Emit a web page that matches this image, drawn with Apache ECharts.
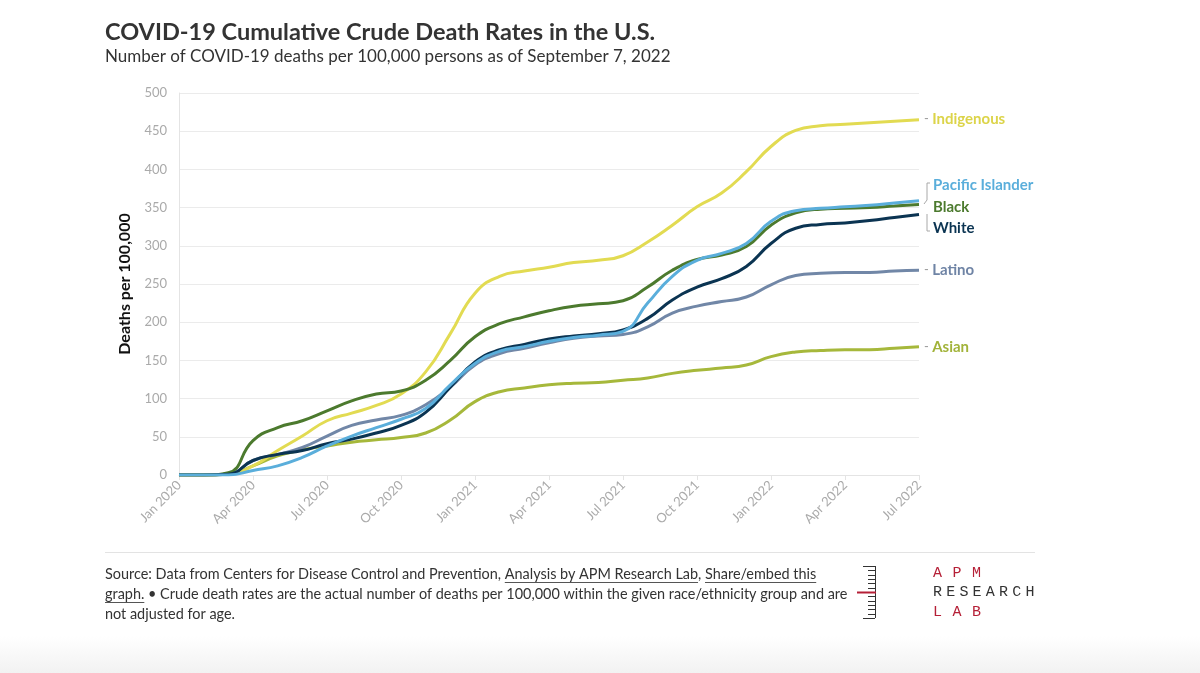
<!DOCTYPE html>
<html>
<head>
<meta charset="utf-8">
<script src="https://cdn.jsdelivr.net/npm/echarts/dist/echarts.min.js"></script>
<style>
html,body{margin:0;padding:0;background:#fff;}
#c{width:1200px;height:673px;}
</style>
</head>
<body>
<div id="c"></div>
<script>
// ---------- data ----------
const tickLabels = ['Jan 2020','Apr 2020','Jul 2020','Oct 2020','Jan 2021','Apr 2021','Jul 2021','Oct 2021','Jan 2022','Apr 2022','Jul 2022'];
// months since Jan 2020
const months = [0,1,2,3,4,5,6,7,8,9,10,11,12,13,14,15,16,17,18,19,20,21,22,23,24,25,26,27,28,29,30];
const indigenous = [0,0,1,12,32,51,71,81,91,106,135,185,238,260,267,272,278,281,287,305,327,351,369,397,430,451,457,459,461,463,465];
const pacificIslander = [0,0,0,6,12,23,38,51,62,73,87,118,146,162,168,175,180,183,188,225,260,281,290,303,332,346,349,351,353,356,359];
const black = [0,0,3,45,62,71,84,97,106,110,124,150,181,198,207,215,221,224,228,246,268,282,288,299,327,343,348,349,350,352,354];
const white = [0,0,1,19,27,32,41,47,55,65,82,115,148,164,171,178,182,185,190,205,229,246,257,273,303,323,328,330,333,337,341];
const latino = [0,0,1,19,27,36,51,65,72,78,92,115,144,159,166,173,179,182,184,194,212,221,227,233,249,261,264,265,265,267,268];
const asian = [0,0,1,12,25,33,38,43,46,49,55,72,96,109,114,118,120,121,124,127,133,137,140,144,155,161,163,164,164,166,168];
const seriesNames = ['Asian','Latino','Indigenous','Black','White','Pacific Islander'];

// ---------- styles ----------
const FONT = 'Lato, "Noto Sans", sans-serif';
const styleOf = {
  'Indigenous':       {color:'#e2db52', label:'#dcd449', dash:true,  labelY:119},
  'Pacific Islander': {color:'#5aaedb', label:'#5aaedb', dash:false, labelY:185},
  'Black':            {color:'#4c7a2e', label:'#4c7a2e', dash:false, labelY:207},
  'White':            {color:'#0b3452', label:'#0b3452', dash:false, labelY:228},
  'Latino':           {color:'#7187a7', label:'#6f84a5', dash:true,  labelY:270},
  'Asian':            {color:'#a6b83b', label:'#a2b33a', dash:true,  labelY:347}
};
const valuesOf = {
  'Indigenous': indigenous, 'Pacific Islander': pacificIslander, 'Black': black,
  'White': white, 'Latino': latino, 'Asian': asian
};

const chart = echarts.init(document.getElementById('c'), null, {renderer:'canvas'});

function buildSeries(offsets) {
  return seriesNames.map(name => {
    const st = styleOf[name];
    const vals = valuesOf[name];
    return {
      name: name,
      type: 'line',
      data: months.map((m, i) => [m, vals[i]]),
      smooth: 0.5,
      showSymbol: false,
      symbol: 'none',
      lineStyle: {color: st.color, width: 3},
      itemStyle: {color: st.color},
      emphasis: {disabled: true},
      endLabel: {
        show: true,
        distance: st.dash ? 5 : 14,
        offset: [0, offsets ? offsets[name] : 0],
        formatter: st.dash ? '{d|-} {n|' + name + '}' : '{n|' + name + '}',
        rich: {
          d: {color: '#9a9a9a', fontSize: 13, fontFamily: FONT},
          n: {color: st.label, fontSize: 15, fontWeight: 'bold', fontFamily: FONT}
        }
      }
    };
  });
}

const baseOption = {
  animation: false,
  backgroundColor: '#ffffff',
  grid: {left: 179, right: 281, top: 93, bottom: 198, containLabel: false},
  xAxis: {
    type: 'value', min: 0, max: 30, interval: 3,
    axisLine: {show: true, lineStyle: {color: '#e4e4e4', width: 1}},
    axisTick: {show: true, length: 5, lineStyle: {color: '#e4e4e4'}},
    splitLine: {show: false},
    axisLabel: {
      rotate: 45, margin: 8, color: '#aaaaaa', fontSize: 13, fontFamily: FONT,
      formatter: v => tickLabels[Math.round(v / 3)] || ''
    }
  },
  yAxis: {
    type: 'value', min: 0, max: 500, interval: 50,
    name: 'Deaths per 100,000', nameLocation: 'middle', nameGap: 46, nameRotate: 90,
    nameTextStyle: {color: '#111', fontSize: 16, fontWeight: 'bold', fontFamily: FONT},
    axisLine: {show: true, lineStyle: {color: '#e4e4e4'}},
    axisTick: {show: false},
    splitLine: {show: true, lineStyle: {color: '#ebebeb', width: 1}},
    axisLabel: {color: '#aaaaaa', fontSize: 13, margin: 12, fontFamily: FONT}
  },
  series: buildSeries(null)
};
chart.setOption(baseOption);

// compute label offsets so labels sit at their layout rows
const offsets = {};
seriesNames.forEach(name => {
  const vals = valuesOf[name];
  const p = chart.convertToPixel({gridIndex: 0}, [months[months.length - 1], vals[vals.length - 1]]);
  offsets[name] = styleOf[name].labelY - p[1];
});
const endX = chart.convertToPixel({gridIndex: 0}, [months[months.length - 1], 0])[0];

// ---------- footer text measurement ----------
const ctx = document.createElement('canvas').getContext('2d');
function measure(txt, size, weight) {
  ctx.font = (weight || 'normal') + ' ' + size + 'px ' + FONT;
  return ctx.measureText(txt).width;
}
const f1a = 'Source: Data from Centers for Disease Control and Prevention, ';
const f1b = 'Analysis by APM Research Lab';
const f1c = ', ';
const f1d = 'Share/embed this';
const f2a = 'graph.';
const f2b = ' \u2022 Crude death rates are the actual number of deaths per 100,000 within the given race/ethnicity group and are';
const f3 = 'not adjusted for age.';
let fs = 14 * 743 / measure(f2a + f2b, 14);
const footFont = fs.toFixed(2) + 'px ' + FONT;
const fx = 105;
function tw(t){ return measure(t, fs); }

const graphics = [];
function txt(x, y, text, font, fill, align) {
  graphics.push({type:'text', x:x, y:y, silent:true,
    style:{text:text, font:font, fill:fill, textAlign: align || 'left', textVerticalAlign:'middle', verticalAlign:'middle'}});
}
function line(x1,y1,x2,y2,stroke,w) {
  graphics.push({type:'line', silent:true, shape:{x1:x1,y1:y1,x2:x2,y2:y2}, style:{stroke:stroke, lineWidth:w||1}});
}
// title
txt(105, 32, 'COVID-19 Cumulative Crude Death Rates in the U.S.', 'bold 23.5px ' + FONT, '#333333');
txt(105, 57, 'Number of COVID-19 deaths per 100,000 persons as of September 7, 2022', 'normal 17px ' + FONT, '#333333');
// separator
line(105, 552.5, 1035, 552.5, '#e3e3e3', 1);
// footer lines
const fcol = '#333333';
const y1 = 574, y2 = 594, y3 = 614;
txt(fx, y1, f1a + f1b + f1c + f1d, footFont, fcol);
const u1s = fx + tw(f1a), u1e = u1s + tw(f1b);
const u2s = fx + tw(f1a + f1b + f1c), u2e = u2s + tw(f1d);
line(u1s, y1 + 8.5, u1e, y1 + 8.5, '#555', 1);
line(u2s, y1 + 8.5, u2e, y1 + 8.5, '#555', 1);
txt(fx, y2, f2a + f2b, footFont, fcol);
line(fx, y2 + 8.5, fx + tw(f2a), y2 + 8.5, '#555', 1);
txt(fx, y3, f3, footFont, fcol);

// logo ruler
const rx = 875;
line(rx + 0.5, 566, rx + 0.5, 618, '#333', 1);
for (let k = 0; k <= 12; k++) {
  const yy = Math.round(566 + k * 52 / 12) + 0.5;
  const big = (k === 0 || k === 12);
  line(big ? rx - 12 : rx - 7, yy, rx, yy, '#333', 1);
}
line(857, 592.5, 876, 592.5, '#b51f36', 2);
// logo letters
const logoFont = 'normal 15px "Liberation Mono", "DejaVu Sans Mono", monospace';
function spaced(word, x0, y, pitch, color) {
  for (let i = 0; i < word.length; i++) {
    txt(x0 + i * pitch, y, word[i], logoFont, color, 'left');
  }
}
spaced('APM', 933, 573, 19.5, '#b51f36');
spaced('RESEARCH', 933, 592, 13.2, '#333333');
spaced('LAB', 933, 612, 19.5, '#b51f36');

// bracket for Pacific Islander / Black / White
const bx = endX + 8;
graphics.push({type:'polyline', silent:true, shape:{points:[[bx+3,183],[bx,183],[bx,200],[bx-3,204]]}, style:{stroke:'#a8a8a8', lineWidth:1, fill:null}});
graphics.push({type:'polyline', silent:true, shape:{points:[[bx,214],[bx,231],[bx+3,231]]}, style:{stroke:'#a8a8a8', lineWidth:1, fill:null}});

// bottom grey band
graphics.push({type:'rect', silent:true, z:-10, shape:{x:0, y:636, width:1200, height:37},
  style:{fill: new echarts.graphic.LinearGradient(0,0,0,1,[{offset:0,color:'#ffffff'},{offset:1,color:'#f2f2f2'}])}});

chart.setOption({series: buildSeries(offsets), graphic: graphics});
</script>
</body>
</html>
